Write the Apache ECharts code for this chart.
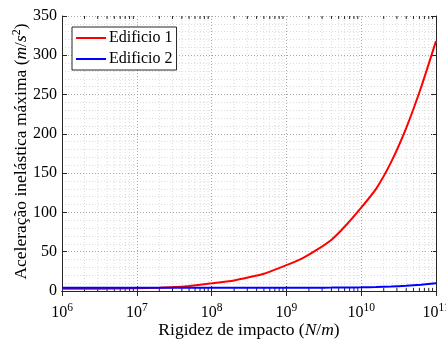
<!DOCTYPE html>
<html><head><meta charset="utf-8">
<script src="https://cdn.jsdelivr.net/npm/echarts@6/dist/echarts.min.js"></script>
<style>html,body{margin:0;padding:0;background:#fff}#c{width:446px;height:340px}</style>
</head><body><div id="c"></div>
<script>
// Rigidez de impacto (N/m)
const stiffness = [1e6, 3.16e6, 1e7, 2e7, 3.16e7, 5e7, 1e8, 2e8, 3.16e8, 5e8, 1e9, 1.58e9, 2.51e9, 3.98e9, 6.31e9, 1e10, 1.58e10, 2.51e10, 3.98e10, 6.31e10, 1e11];
// Edificio 1 (m/s^2)
const edificio1 = [2.8, 3.0, 3.4, 4.2, 5.0, 6.5, 9.8, 13.5, 17.5, 22, 33, 41, 52, 65, 84, 106, 130, 164, 207, 259, 318];
// Edificio 2 (m/s^2)
const edificio2 = [4.2, 4.2, 4.2, 4.2, 4.2, 4.2, 4.2, 4.2, 4.2, 4.2, 4.2, 4.2, 4.2, 4.3, 4.5, 4.7, 5.1, 5.7, 6.6, 7.9, 9.8];
const xMin = 1e6, xMax = 1e11, yMin = 0, yMax = 350;

const FONT = 'Liberation Serif';
const minorX = [];
for (let d = 6; d < 11; d++) for (let m = 2; m <= 9; m++) minorX.push([m * Math.pow(10, d), 0]);

const chart = echarts.init(document.getElementById('c'), null, {renderer: 'canvas'});
const axisLineStyle = {color: '#262626', width: 1};
chart.setOption({
  animation: false,
  grid: {left: 62, right: 10, top: 16, bottom: 49, containLabel: false, outerBoundsMode: 'none'},
  legend: {
    left: 72, top: 27, orient: 'vertical',
    data: ['Edificio 1', 'Edificio 2'], icon: 'rect',
    backgroundColor: '#fff', borderColor: '#262626', borderWidth: 1, borderRadius: 0,
    padding: [2, 4, 2, 4], itemGap: 3, itemWidth: 30, itemHeight: 2,
    textStyle: {fontFamily: FONT, fontSize: 16, color: '#000', padding: [0, 0, 0, -2], lineHeight: 18}
  },
  xAxis: [{
    type: 'log', logBase: 10, min: xMin, max: xMax, interval: 1,
    name: 'Rigidez de impacto ({i|N}/{i|m})', nameLocation: 'middle', nameGap: 30, nameMoveOverlap: false,
    nameTextStyle: {fontFamily: FONT, fontSize: 17.5, color: '#000',
      rich: {i: {fontFamily: FONT, fontSize: 17.5, fontStyle: 'italic', color: '#000'}}},
    axisLine: {lineStyle: axisLineStyle},
    axisTick: {inside: true, length: 5, lineStyle: axisLineStyle},
    axisLabel: {
      margin: 11, color: '#000', fontFamily: FONT, fontSize: 16,
      formatter: v => '{a|10}{s|' + Math.round(Math.log10(v)) + '}',
      rich: {a: {fontFamily: FONT, fontSize: 16, color: '#000'},
             s: {fontFamily: FONT, fontSize: 11.5, color: '#000', padding: [0, 0, 9, 0]}}
    },
    splitLine: {show: true, lineStyle: {color: '#a8a8a8', type: [1, 2], width: 1}}
  }, {
    type: 'log', logBase: 10, min: xMin, max: xMax, interval: 1, position: 'top',
    axisLine: {lineStyle: axisLineStyle},
    axisTick: {inside: true, length: 5, lineStyle: axisLineStyle},
    axisLabel: {show: false}, splitLine: {show: false}
  }],
  yAxis: [{
    type: 'value', min: yMin, max: yMax, interval: 50,
    name: 'Aceleração inelástica máxima ({i|m}/{i|s}{s|2})', nameLocation: 'middle', nameGap: 30, nameMoveOverlap: false,
    nameTextStyle: {fontFamily: FONT, fontSize: 17.5, color: '#000', padding: [0, 0, 0, 4],
      rich: {i: {fontFamily: FONT, fontSize: 17.5, fontStyle: 'italic', color: '#000'},
             s: {fontFamily: FONT, fontSize: 12, color: '#000', padding: [0, 0, 9, 0]}}},
    axisLine: {show: true, lineStyle: axisLineStyle},
    axisTick: {show: true, inside: true, length: 5, lineStyle: axisLineStyle},
    axisLabel: {margin: 5, color: '#000', fontFamily: FONT, fontSize: 16},
    splitLine: {show: true, lineStyle: {color: '#a8a8a8', type: [1, 2], width: 1}},
    minorTick: {show: false, splitNumber: 5},
    minorSplitLine: {show: true, lineStyle: {color: '#dcdcdc', type: [1, 2], width: 1}}
  }, {
    type: 'value', min: yMin, max: yMax, interval: 50, position: 'right',
    axisLine: {show: true, lineStyle: axisLineStyle},
    axisTick: {show: true, inside: true, length: 5, lineStyle: axisLineStyle},
    axisLabel: {show: false}, splitLine: {show: false}
  }],
  series: [{
    type: 'custom', silent: true, z: 1, xAxisIndex: 0, yAxisIndex: 0,
    data: minorX, encode: {x: 0, y: 1},
    renderItem: (params, api) => {
      const x = api.value(0);
      const b = api.coord([x, yMin]);
      const t = api.coord([x, yMax]);
      return {type: 'group', children: [
        {type: 'line', shape: {x1: b[0], y1: b[1], x2: t[0], y2: t[1]},
         style: {stroke: '#dcdcdc', lineWidth: 1, lineDash: [1, 2]}},
        {type: 'line', shape: {x1: b[0], y1: b[1], x2: b[0], y2: b[1] - 3},
         style: {stroke: '#262626', lineWidth: 1}},
        {type: 'line', shape: {x1: t[0], y1: t[1], x2: t[0], y2: t[1] + 3},
         style: {stroke: '#262626', lineWidth: 1}}
      ]};
    }
  }, {
    name: 'Edificio 1', type: 'line', z: 3, showSymbol: false, symbol: 'none', smooth: 0.2,
    data: stiffness.map((k, i) => [k, edificio1[i]]),
    lineStyle: {color: '#ff0000', width: 2}, itemStyle: {color: '#ff0000'}
  }, {
    name: 'Edificio 2', type: 'line', z: 3, showSymbol: false, symbol: 'none', smooth: 0.2,
    data: stiffness.map((k, i) => [k, edificio2[i]]),
    lineStyle: {color: '#0000ff', width: 2}, itemStyle: {color: '#0000ff'}
  }]
});
</script></body></html>
